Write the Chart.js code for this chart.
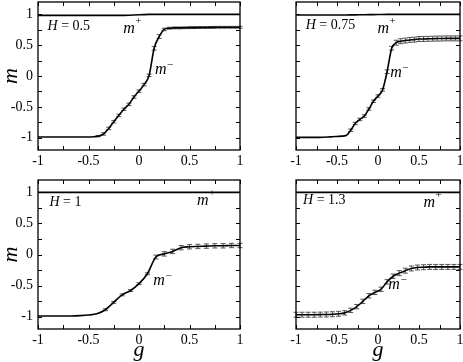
<!DOCTYPE html>
<html>
<head>
<meta charset="utf-8">
<script src="https://cdn.jsdelivr.net/npm/chart.js@4.4.1/dist/chart.umd.min.js"></script>
<style>
  html, body { margin: 0; padding: 0; background: #fff; }
  #wrap { position: relative; width: 463px; height: 362px; }
  #wrap canvas { position: absolute; left: 0; top: 0; }
</style>
</head>
<body>
<div id="wrap">
  <canvas id="c1" width="463" height="362"></canvas>
  <canvas id="c2" width="463" height="362"></canvas>
  <canvas id="c3" width="463" height="362"></canvas>
  <canvas id="c4" width="463" height="362"></canvas>
</div>
<script>
// tick positions
const xTicks = [-1, -0.5, 0, 0.5, 1];
const yTicks = [-1, -0.5, 0, 0.5, 1];
const minorTicks = [-1, -0.75, -0.5, -0.25, 0, 0.25, 0.5, 0.75, 1];
const fieldValues = ['0.5', '0.75', '1', '1.3'];

// H = 0.5
const g1 = [-1, -0.95, -0.9, -0.85, -0.8, -0.75, -0.7, -0.65, -0.6, -0.55, -0.5, -0.45,
  -0.4, -0.35, -0.3, -0.25, -0.2, -0.15, -0.1, -0.05, 0, 0.05, 0.1, 0.15, 0.2, 0.25,
  0.3, 0.35, 0.4, 0.45, 0.5, 0.55, 0.6, 0.65, 0.7, 0.75, 0.8, 0.85, 0.9, 0.95, 1];
const mMinus1 = [-0.99, -0.99, -0.99, -0.99, -0.99, -0.99, -0.99, -0.99, -0.99, -0.99, -0.99, -0.985,
  -0.975, -0.94, -0.85, -0.74, -0.64, -0.54, -0.46, -0.34, -0.245, -0.14, 0.01, 0.45, 0.64, 0.755,
  0.775, 0.78, 0.78, 0.782, 0.784, 0.785, 0.786, 0.787, 0.788, 0.789, 0.79, 0.79, 0.79, 0.79, 0.79];
const err1 = [0, 0, 0, 0, 0, 0, 0, 0, 0, 0, 0, 0,
  0.01, 0.02, 0.02, 0.02, 0.02, 0.02, 0.02, 0.02, 0.02, 0.02, 0.02, 0.03, 0.03, 0.02,
  0.015, 0.015, 0.015, 0.015, 0.015, 0.015, 0.015, 0.015, 0.015, 0.015, 0.015, 0.015, 0.015, 0.015, 0.015];
const mPlus1 = [0.983, 0.983, 0.983, 0.983, 0.983, 0.983, 0.983, 0.983, 0.983, 0.983, 0.983, 0.983,
  0.983, 0.983, 0.983, 0.983, 0.983, 0.983, 0.986, 0.99, 0.993, 0.996, 1, 1, 1, 1,
  1, 1, 1, 1, 1, 1, 1, 1, 1, 1, 1, 1, 1, 1, 1];

// H = 0.75
const g2 = [-1, -0.944, -0.889, -0.833, -0.778, -0.722, -0.667, -0.611, -0.556, -0.5, -0.444, -0.389,
  -0.333, -0.278, -0.222, -0.167, -0.111, -0.056, 0, 0.056, 0.111, 0.167, 0.222, 0.278,
  0.333, 0.389, 0.444, 0.5, 0.556, 0.611, 0.667, 0.722, 0.778, 0.833, 0.889, 0.944, 1];
const mMinus2 = [-0.995, -0.995, -0.995, -0.995, -0.995, -0.995, -0.993, -0.99, -0.985, -0.98, -0.975, -0.965,
  -0.88, -0.77, -0.705, -0.65, -0.535, -0.41, -0.325, -0.225, 0.07, 0.45, 0.54, 0.565,
  0.575, 0.585, 0.59, 0.6, 0.6, 0.603, 0.605, 0.607, 0.608, 0.61, 0.61, 0.61, 0.61];
const err2 = [0, 0, 0, 0, 0, 0, 0, 0, 0, 0, 0, 0,
  0.02, 0.02, 0.02, 0.02, 0.02, 0.02, 0.02, 0.02, 0.03, 0.03, 0.04, 0.04,
  0.04, 0.04, 0.04, 0.04, 0.04, 0.04, 0.04, 0.04, 0.04, 0.04, 0.04, 0.04, 0.04];
const mPlus2 = [0.99, 0.99, 0.99, 0.99, 0.99, 0.99, 0.99, 0.99, 0.99, 0.99, 0.99, 0.99,
  0.991, 0.992, 0.993, 0.994, 0.995, 0.996, 0.997, 0.998, 0.999, 1, 1, 1,
  1, 1, 1, 1, 1, 1, 1, 1, 1, 1, 1, 1, 1];

// H = 1
const g3 = [-1, -0.917, -0.833, -0.75, -0.667, -0.583, -0.5, -0.417, -0.333, -0.25, -0.167, -0.083,
  0, 0.083, 0.167, 0.25, 0.333, 0.417, 0.5, 0.583, 0.667, 0.75, 0.833, 0.917, 1];
const mMinus3 = [-0.99, -0.99, -0.99, -0.99, -0.99, -0.985, -0.975, -0.955, -0.89, -0.77, -0.65, -0.58,
  -0.47, -0.31, -0.04, 0.01, 0.05, 0.11, 0.125, 0.13, 0.135, 0.14, 0.14, 0.145, 0.145];
const err3 = [0, 0, 0, 0, 0, 0, 0, 0, 0.015, 0.015, 0.015, 0.015,
  0.015, 0.015, 0.03, 0.035, 0.035, 0.035, 0.035, 0.035, 0.035, 0.035, 0.035, 0.035, 0.035];
const mPlus3 = [1, 1, 1, 1, 1, 1, 1, 1, 1, 1, 1, 1, 1, 1, 1, 1, 1, 1, 1, 1, 1, 1, 1, 1, 1];

// H = 1.3
const g4 = [-1, -0.926, -0.852, -0.778, -0.704, -0.63, -0.556, -0.481, -0.407, -0.333, -0.259, -0.185, -0.111, -0.037,
  0.037, 0.111, 0.185, 0.259, 0.333, 0.407, 0.481, 0.556, 0.63, 0.704, 0.778, 0.852, 0.926, 1];
const mMinus4 = [-0.97, -0.97, -0.97, -0.97, -0.968, -0.966, -0.962, -0.955, -0.94, -0.9, -0.84, -0.755, -0.665, -0.61,
  -0.56, -0.44, -0.35, -0.3, -0.26, -0.225, -0.21, -0.205, -0.2, -0.2, -0.2, -0.2, -0.2, -0.2];
const err4 = [0.04, 0.04, 0.04, 0.04, 0.04, 0.04, 0.04, 0.04, 0.035, 0.035, 0.035, 0.035, 0.035, 0.035,
  0.035, 0.035, 0.035, 0.04, 0.04, 0.04, 0.04, 0.04, 0.04, 0.04, 0.04, 0.04, 0.04, 0.04];
const mPlus4 = [1, 1, 1, 1, 1, 1, 1, 1, 1, 1, 1, 1, 1, 1, 1, 1, 1, 1, 1, 1, 1, 1, 1, 1, 1, 1, 1, 1];

const SERIF = "'Liberation Serif', 'DejaVu Serif', serif";
const tickLen = 4;

// frame + inward ticks on all four sides
const frameTicks = {
  id: 'frameTicks',
  afterDraw(chart) {
    const { ctx, chartArea: a, scales: { x, y } } = chart;
    ctx.save();
    ctx.strokeStyle = '#000';
    ctx.lineWidth = 1;
    ctx.beginPath();
    minorTicks.forEach(v => {
      const px = Math.round(x.getPixelForValue(v)) + 0.5;
      ctx.moveTo(px, a.bottom); ctx.lineTo(px, a.bottom - tickLen);
      ctx.moveTo(px, a.top); ctx.lineTo(px, a.top + tickLen);
      const py = Math.round(y.getPixelForValue(v)) + 0.5;
      ctx.moveTo(a.left, py); ctx.lineTo(a.left + tickLen, py);
      ctx.moveTo(a.right, py); ctx.lineTo(a.right - tickLen, py);
    });
    ctx.stroke();
    ctx.lineWidth = 1.3;
    ctx.strokeRect(a.left, a.top, a.right - a.left, a.bottom - a.top);
    ctx.restore();
  }
};

const errorBars = {
  id: 'errorBars',
  beforeDatasetsDraw(chart) {
    const { ctx, scales: { x, y } } = chart;
    ctx.save();
    ctx.strokeStyle = '#555';
    ctx.lineWidth = 1;
    chart.data.datasets.forEach(ds => {
      if (!ds.errors) return;
      ds.data.forEach((p, i) => {
        const e = ds.errors[i];
        if (!e) return;
        const px = x.getPixelForValue(p.x);
        const t = y.getPixelForValue(p.y + e);
        const b = y.getPixelForValue(p.y - e);
        ctx.beginPath();
        ctx.moveTo(px, t); ctx.lineTo(px, b);
        ctx.moveTo(px - 2.5, t); ctx.lineTo(px + 2.5, t);
        ctx.moveTo(px - 2.5, b); ctx.lineTo(px + 2.5, b);
        ctx.stroke();
      });
    });
    ctx.restore();
  }
};

// "H = ..." and m+ / m- labels, placed in data coordinates
const panelText = {
  id: 'panelText',
  afterDraw(chart, args, opts) {
    const { ctx, scales: { x, y } } = chart;
    ctx.save();
    ctx.fillStyle = '#000';
    ctx.textBaseline = 'alphabetic';
    let px = x.getPixelForValue(opts.field.g);
    let py = y.getPixelForValue(opts.field.m);
    ctx.font = 'italic 14px ' + SERIF;
    ctx.fillText('H', px, py);
    px += ctx.measureText('H').width;
    ctx.font = '14px ' + SERIF;
    ctx.fillText(' = ' + opts.field.text, px, py);

    [['+', opts.plus, 9], ['\u2212', opts.minus, 6]].forEach(([sign, pos, raise]) => {
      let lx = x.getPixelForValue(pos.g);
      const ly = y.getPixelForValue(pos.m);
      ctx.font = 'italic 16px ' + SERIF;
      ctx.fillText('m', lx, ly);
      lx += ctx.measureText('m').width + 0.5;
      ctx.font = '11px ' + SERIF;
      ctx.fillText(sign, lx, ly - raise);
    });
    ctx.restore();
  }
};

function makePanel(id, g, mMinus, err, mPlus, o) {
  const pts = (arr) => g.map((v, i) => ({ x: v, y: arr[i] }));
  return new Chart(document.getElementById(id), {
    type: 'line',
    data: {
      datasets: [
        { data: pts(mPlus), borderColor: '#000', borderWidth: 1.6, pointRadius: 0, tension: 0 },
        { data: pts(mMinus), errors: err, borderColor: '#000', borderWidth: 1.6, pointRadius: 0,
          cubicInterpolationMode: 'monotone' }
      ]
    },
    options: {
      responsive: false,
      animation: false,
      devicePixelRatio: 1,
      layout: { autoPadding: false, padding: o.padding },
      plugins: {
        legend: { display: false },
        tooltip: { enabled: false },
        panelText: o.text
      },
      scales: {
        x: {
          type: 'linear', min: -1, max: 1,
          grid: { display: false, drawTicks: false }, border: { display: false },
          afterBuildTicks: s => { s.ticks = xTicks.map(v => ({ value: v })); },
          afterFit: s => { s.height = o.xHeight; s.paddingLeft = 0; s.paddingRight = 0; },
          ticks: { color: '#000', font: { family: SERIF, size: 14 }, padding: 3, maxRotation: 0,
            autoSkip: false, callback: v => String(v) },
          title: { display: o.xTitle, text: 'g', color: '#000',
            font: { family: SERIF, size: 22, style: 'italic', lineHeight: 1 }, padding: { top: 0, bottom: 1 } }
        },
        y: {
          type: 'linear', min: -1.2, max: 1.2,
          display: o.yLabels,
          grid: { display: false, drawTicks: false }, border: { display: false },
          afterBuildTicks: s => { s.ticks = yTicks.map(v => ({ value: v })); },
          afterFit: s => { s.width = 38; s.paddingTop = 0; s.paddingBottom = 0; },
          ticks: { color: '#000', font: { family: SERIF, size: 14 }, padding: 5,
            autoSkip: false, callback: v => String(v) },
          title: { display: true, text: 'm', color: '#000',
            font: { family: SERIF, size: 22, style: 'italic', lineHeight: 1 }, padding: { top: 0, bottom: 0 } }
        }
      }
    },
    plugins: [errorBars, frameTicks, panelText]
  });
}

makePanel('c1', g1, mMinus1, err1, mPlus1, {
  padding: { left: 0, top: 2, right: 223, bottom: 192 }, xHeight: 20, xTitle: false, yLabels: true,
  text: { field: { g: -0.905, m: 0.75, text: fieldValues[0] }, plus: { g: -0.156, m: 0.694 }, minus: { g: 0.159, m: 0.03 } }
});
makePanel('c2', g2, mMinus2, err2, mPlus2, {
  padding: { left: 258, top: 2, right: 3, bottom: 192 }, xHeight: 20, xTitle: false, yLabels: false,
  text: { field: { g: -0.881, m: 0.764, text: fieldValues[1] }, plus: { g: -0.007, m: 0.694 }, minus: { g: 0.149, m: -0.015 } }
});
makePanel('c3', g3, mMinus3, err3, mPlus3, {
  padding: { left: 0, top: 180, right: 223, bottom: 0 }, xHeight: 33, xTitle: true, yLabels: true,
  text: { field: { g: -0.886, m: 0.783, text: fieldValues[2] }, plus: { g: 0.574, m: 0.795 }, minus: { g: 0.142, m: -0.499 } }
});
makePanel('c4', g4, mMinus4, err4, mPlus4, {
  padding: { left: 258, top: 180, right: 3, bottom: 0 }, xHeight: 33, xTitle: true, yLabels: false,
  text: { field: { g: -0.914, m: 0.806, text: fieldValues[3] }, plus: { g: 0.554, m: 0.767 }, minus: { g: 0.126, m: -0.552 } }
});
</script>
</body>
</html>
